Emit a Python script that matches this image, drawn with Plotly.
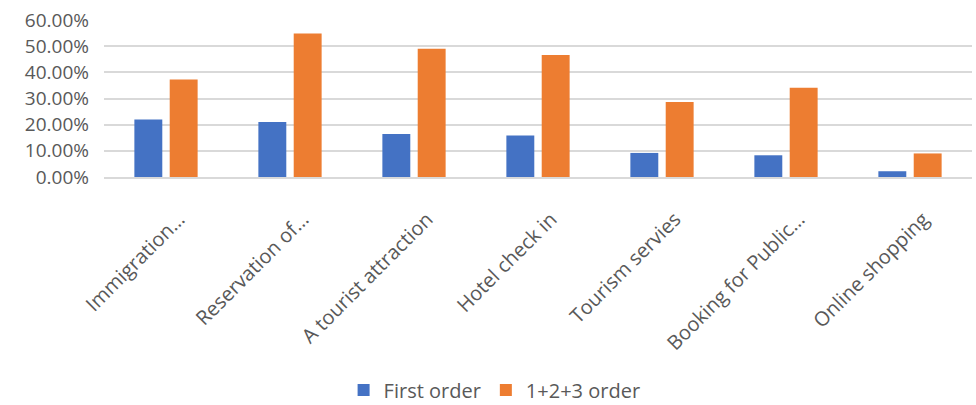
import plotly.graph_objects as go

categories = ["Immigration…", "Reservation of…", "A tourist attraction", "Hotel check in",
              "Tourism servies", "Booking for Public…", "Online shopping"]
first_order = [0.220, 0.210, 0.164, 0.159, 0.092, 0.083, 0.022]
order_123 = [0.373, 0.548, 0.490, 0.466, 0.287, 0.341, 0.090]

FONT = "Open Sans"
GRAY = "#595959"

fig = go.Figure()
fig.add_trace(go.Bar(x=categories, y=first_order, name="First order",
                     marker=dict(color="#4472C4", line=dict(width=0))))
fig.add_trace(go.Bar(x=categories, y=order_123, name="1+2+3 order",
                     marker=dict(color="#ED7D31", line=dict(width=0))))

fig.update_layout(
    width=976, height=405,
    margin=dict(l=104, r=4, t=20, b=228, autoexpand=False),
    plot_bgcolor="white", paper_bgcolor="white",
    barmode="group", bargap=0.43, bargroupgap=0.21,
    font=dict(family=FONT, size=18, color=GRAY),
    showlegend=True,
    legend=dict(orientation="h", x=0.45, xanchor="center", y=-1.357, yanchor="middle",
                font=dict(size=20, color=GRAY), itemwidth=30, traceorder="normal"),
    xaxis=dict(tickangle=-45, showgrid=False, showline=True, linecolor="#D9D9D9",
               linewidth=1.5, ticks="", tickfont=dict(size=20, color=GRAY),
               ticklabelshift=13, ticklabelstandoff=21, automargin=False),
    yaxis=dict(range=[0, 0.6], dtick=0.1, tickformat=".2%", showgrid=True,
               gridcolor="#D9D9D9", gridwidth=1.5, zeroline=False, showline=False,
               ticks="", tickfont=dict(size=19, color=GRAY), ticklabelstandoff=14,
               automargin=False),
)

fig.write_html("out.html")
